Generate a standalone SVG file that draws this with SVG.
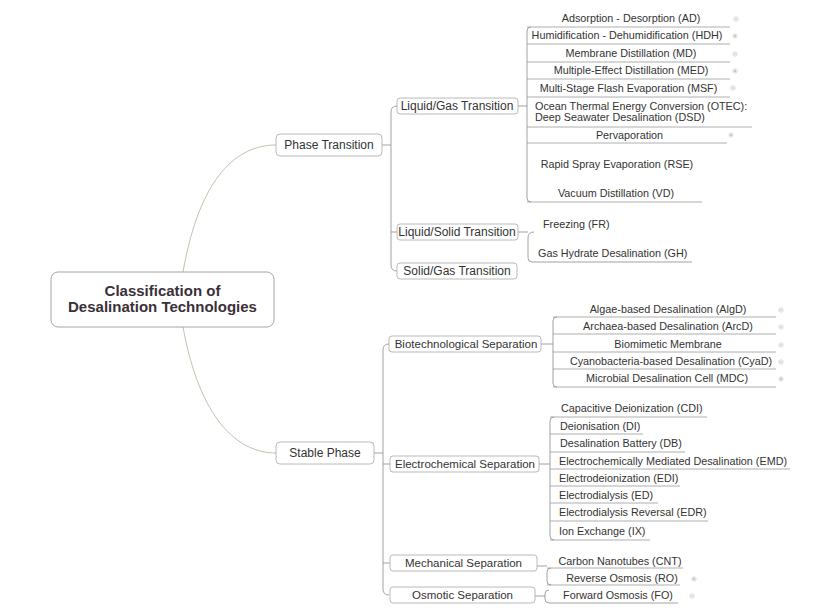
<svg xmlns="http://www.w3.org/2000/svg" width="816" height="613" viewBox="0 0 816 613">
<style>
text{font-family:"Liberation Sans",Arial,sans-serif;fill:#333}
.leaf{font-size:10.8px}
.mid{text-anchor:middle}
.n2{font-size:12px;text-anchor:middle}
.n2s{font-size:11.5px;text-anchor:middle}
.box{fill:#fff;stroke:#a8a8a8;stroke-width:0.8}
.root{fill:#fff;stroke:#9a9a9a;stroke-width:0.9}
.ln{fill:none;stroke:#8a8a8a;stroke-width:0.8}
.ul{fill:none;stroke:#9a9a9a;stroke-width:0.8}
.cv{fill:none;stroke:#b8ae98;stroke-width:0.8}
.mk{fill:#fff;stroke:#c4c4c4;stroke-width:0.6}
.mkp{stroke:#a0a0a0;stroke-width:0.7}
</style>
<rect width="816" height="613" fill="#fff"/>
<g id="connectors">
<path class="cv" d="M183,272 C200,175 238,145 276,145"/>
<path class="cv" d="M183,327 C200,420 238,453 276,453"/>
<path class="ln" d="M382,145 L391,145"/>
<path class="ln" d="M397,106 Q391,106 391,112 L391,265 Q391,271 397,271 M391,232 L397,232"/>
<path class="ln" d="M374,453 L383,453"/>
<path class="ln" d="M389,344 Q383,344 383,350 L383,589 Q383,595 389,595 M383,464 L390,464 M383,563 L390,563"/>
<path class="ln" d="M518,106 L527,106"/>
<path class="ln" d="M531,27 Q527,27 527,31 L527,198 Q527,202 531,202"/>
<path class="ul" d="M527,27 H730 M527,44 H730 M527,62 H730 M527,79 H730 M527,97 H730 M527,127 H752 M527,143 H727 M527,202 H702"/>
<path class="ln" d="M518,232 L528,232"/>
<path class="ln" d="M534,232 Q528,232 528,238 L528,258 Q528,262 532,262 H692"/>
<path class="ln" d="M541,344 L553,344"/>
<path class="ln" d="M557,317 Q553,317 553,321 L553,383 Q553,387 557,387"/>
<path class="ul" d="M553,317 H776 M553,334 H776 M553,352 H776 M553,369 H776 M553,387 H776"/>
<path class="ln" d="M539,464 L550,464"/>
<path class="ln" d="M554,417 Q550,417 550,421 L550,536 Q550,540 554,540"/>
<path class="ul" d="M550,417 H707 M550,434 H643 M550,452 H685 M550,469 H790 M550,486 H680 M550,503 H658 M550,521 H708 M550,540 H650"/>
<path class="ln" d="M537,566 L547,566"/>
<path class="ln" d="M551,568 Q547,568 547,572 L547,581 Q547,585 551,585"/>
<path class="ul" d="M547,568 H683 M547,585 H680"/>
<path class="ln" d="M535,596 L545,596"/>
<path class="ln" d="M549,590 Q545,590 545,594 L545,599 Q545,603 549,603 H678"/>
</g>
<g id="root">
<rect class="root" x="51" y="272" width="223" height="55" rx="7"/>
<text x="162.5" y="296" font-size="15" font-weight="bold" text-anchor="middle" style="fill:#3a3038">Classification of</text>
<text x="162.5" y="312" font-size="15" font-weight="bold" text-anchor="middle" style="fill:#3a3038">Desalination Technologies</text>
</g>
<g id="phase-transition">
<rect class="box" x="276" y="134" width="106" height="22" rx="4"/>
<text class="n2" x="329" y="149">Phase Transition</text>
</g>
<g id="stable-phase">
<rect class="box" x="276" y="442" width="98" height="22" rx="4"/>
<text class="n2" x="325" y="457">Stable Phase</text>
</g>
<g id="liquid-gas">
<rect class="box" x="397" y="98" width="121" height="16" rx="3"/>
<text class="n2" x="457" y="110">Liquid/Gas Transition</text>
</g>
<g id="liquid-solid">
<rect class="box" x="397" y="224" width="121" height="16" rx="3"/>
<text class="n2" x="457" y="236">Liquid/Solid Transition</text>
</g>
<g id="solid-gas">
<rect class="box" x="397" y="263" width="120" height="16" rx="3"/>
<text class="n2" x="457" y="275">Solid/Gas Transition</text>
</g>
<g id="biotech">
<rect class="box" x="389" y="336" width="152" height="16" rx="3"/>
<text class="n2s" x="466" y="348">Biotechnological Separation</text>
</g>
<g id="electrochem">
<rect class="box" x="390" y="456" width="149" height="16" rx="3"/>
<text class="n2s" x="465" y="468">Electrochemical Separation</text>
</g>
<g id="mechanical">
<rect class="box" x="390" y="555" width="147" height="16" rx="3"/>
<text class="n2s" x="463.5" y="567">Mechanical Separation</text>
</g>
<g id="osmotic">
<rect class="box" x="390" y="587" width="145" height="16" rx="3"/>
<text class="n2s" x="462.5" y="599">Osmotic Separation</text>
</g>
<g id="lg-leaves">
<text class="leaf mid" x="631" y="22">Adsorption - Desorption (AD)</text>
<text class="leaf mid" x="627" y="39">Humidification - Dehumidification (HDH)</text>
<text class="leaf mid" x="631" y="57">Membrane Distillation (MD)</text>
<text class="leaf mid" x="631" y="74">Multiple-Effect Distillation (MED)</text>
<text class="leaf mid" x="628.5" y="92">Multi-Stage Flash Evaporation (MSF)</text>
<text class="leaf" x="535" y="110">Ocean Thermal Energy Conversion (OTEC):</text>
<text class="leaf" x="535" y="121">Deep Seawater Desalination (DSD)</text>
<text class="leaf mid" x="629.5" y="139">Pervaporation</text>
<text class="leaf mid" x="617" y="168">Rapid Spray Evaporation (RSE)</text>
<text class="leaf mid" x="616" y="197">Vacuum Distillation (VD)</text>
</g>
<g id="ls-leaves">
<text class="leaf" x="543" y="228">Freezing (FR)</text>
<text class="leaf" x="538" y="257">Gas Hydrate Desalination (GH)</text>
</g>
<g id="bio-leaves">
<text class="leaf mid" x="668" y="313">Algae-based Desalination (AlgD)</text>
<text class="leaf mid" x="668" y="330">Archaea-based Desalination (ArcD)</text>
<text class="leaf mid" x="668" y="348">Biomimetic Membrane</text>
<text class="leaf mid" x="671" y="365">Cyanobacteria-based Desalination (CyaD)</text>
<text class="leaf mid" x="667" y="382">Microbial Desalination Cell (MDC)</text>
</g>
<g id="ec-leaves">
<text class="leaf" x="561" y="412">Capacitive Deionization (CDI)</text>
<text class="leaf" x="560" y="430">Deionisation (DI)</text>
<text class="leaf" x="560" y="447">Desalination Battery (DB)</text>
<text class="leaf" x="559" y="465">Electrochemically Mediated Desalination (EMD)</text>
<text class="leaf" x="559" y="482">Electrodeionization (EDI)</text>
<text class="leaf" x="559" y="499">Electrodialysis (ED)</text>
<text class="leaf" x="559" y="516">Electrodialysis Reversal (EDR)</text>
<text class="leaf" x="559" y="535">Ion Exchange (IX)</text>
</g>
<g id="mech-leaves">
<text class="leaf mid" x="620" y="565">Carbon Nanotubes (CNT)</text>
<text class="leaf mid" x="622" y="582">Reverse Osmosis (RO)</text>
</g>
<g id="osm-leaves">
<text class="leaf mid" x="618" y="599">Forward Osmosis (FO)</text>
</g>
<g id="markers">
<g class="mk"><circle cx="736" cy="19" r="2.2"/><circle cx="735" cy="36" r="2.2"/><circle cx="735" cy="54" r="2.2"/><circle cx="735" cy="71" r="2.2"/><circle cx="733" cy="88" r="2.2"/><circle cx="731" cy="135" r="2.2"/><circle cx="781" cy="310" r="2.2"/><circle cx="781" cy="327" r="2.2"/><circle cx="781" cy="345" r="2.2"/><circle cx="781" cy="362" r="2.2"/><circle cx="781" cy="379" r="2.2"/><circle cx="694" cy="579" r="2.2"/><circle cx="692" cy="596" r="2.2"/></g>
<path class="mkp" d="M734.8,19 h2.4 M733.8,36 h2.4 M735,34.8 v2.4 M733.8,54 h2.4 M733.8,71 h2.4 M735,69.8 v2.4 M731.8,88 h2.4 M729.8,135 h2.4 M731,133.8 v2.4 M779.8,310 h2.4 M779.8,327 h2.4 M779.8,345 h2.4 M779.8,362 h2.4 M779.8,379 h2.4 M781,377.8 v2.4 M692.8,579 h2.4 M694,577.8 v2.4 M690.8,596 h2.4"/>
</g>
</svg>
